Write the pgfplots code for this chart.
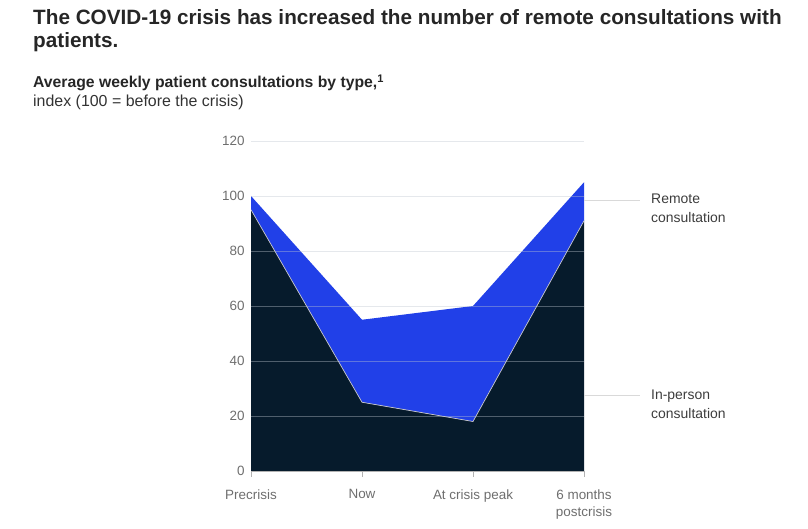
\documentclass[border=0pt]{standalone}
\usepackage{pgfplots}
\pgfplotsset{compat=1.18}
\usepackage{fontspec}
\setmainfont{Liberation Sans}
\definecolor{navy}{RGB}{6,27,44}
\definecolor{rblue}{RGB}{33,64,232}
\definecolor{gridc}{RGB}{190,198,208}
\definecolor{txtgray}{RGB}{110,110,110}
\definecolor{lblgray}{RGB}{60,60,60}
\begin{document}
\begin{tikzpicture}[x=1bp,y=1bp]
\path (0,0) rectangle (808,529);
\begin{axis}[
  at={(251bp,58bp)}, anchor=south west,
  scale only axis, width=333bp, height=330bp,
  xmin=0, xmax=3, ymin=0, ymax=120,
  xtick={0,1,2,3},
  xticklabels={Precrisis,Now,At crisis peak,{6 months\\postcrisis}},
  xticklabel style={align=center, text=txtgray, font=\fontsize{13.5}{17}\selectfont, yshift=-9bp},
  ytick={0,20,...,120},
  yticklabel style={text=txtgray, font=\fontsize{13.5}{15}\selectfont},
  /pgf/number format/assume math mode=true,
  axis x line=bottom, axis y line=left,
  axis line style={draw=gray!60, -},
  x axis line style={draw=gray!60},
  y axis line style={draw=none},
  ymajorgrids, major grid style={draw=gridc, opacity=0.4, line width=0.8bp},
  major tick length=6bp,
  xtick style={draw=gray!60},
  ytick style={draw=none},
  xtick align=outside,
  axis on top,
  clip=false,
]
\addplot[draw=none, fill=navy] coordinates {(0,95) (1,25) (2,18) (3,91)} \closedcycle;
\addplot[draw=none, fill=rblue] coordinates {(0,100) (1,55) (2,60) (3,105) (3,91) (2,18) (1,25) (0,95)} -- cycle;
\addplot[draw=gray!45, line width=0.7bp] coordinates {(0,95) (1,25) (2,18) (3,91)};
\draw[draw=gray!30, line width=0.8bp] (axis cs:3,98.5) -- ++(56bp,0);
\draw[draw=gray!30, line width=0.8bp] (axis cs:3,27.5) -- ++(56bp,0);
\node[anchor=north west, inner sep=0pt, align=left, text=lblgray, font=\fontsize{14}{19}\selectfont] at ([xshift=67bp,yshift=6bp]axis cs:3,98.5) {Remote\\consultation};
\node[anchor=north west, inner sep=0pt, align=left, text=lblgray, font=\fontsize{14}{19}\selectfont] at ([xshift=67bp,yshift=6bp]axis cs:3,27.5) {In-person\\consultation};
\end{axis}
\node[anchor=base west, inner sep=0pt, font=\fontsize{20.8}{24}\selectfont\bfseries, text=black!85] at (33,529-25) {The COVID-19 crisis has increased the number of remote consultations with};
\node[anchor=base west, inner sep=0pt, font=\fontsize{20.8}{24}\selectfont\bfseries, text=black!85] at (33,529-48) {patients.};
\node[anchor=base west, inner sep=0pt, font=\fontsize{15.8}{17}\selectfont\bfseries, text=black!85] at (33,529-88) {Average weekly patient consultations by type,\textsuperscript{1}};
\node[anchor=base west, inner sep=0pt, font=\fontsize{16}{17}\selectfont, text=black!80] at (33,529-107) {index (100 = before the crisis)};
\end{tikzpicture}
\end{document}
